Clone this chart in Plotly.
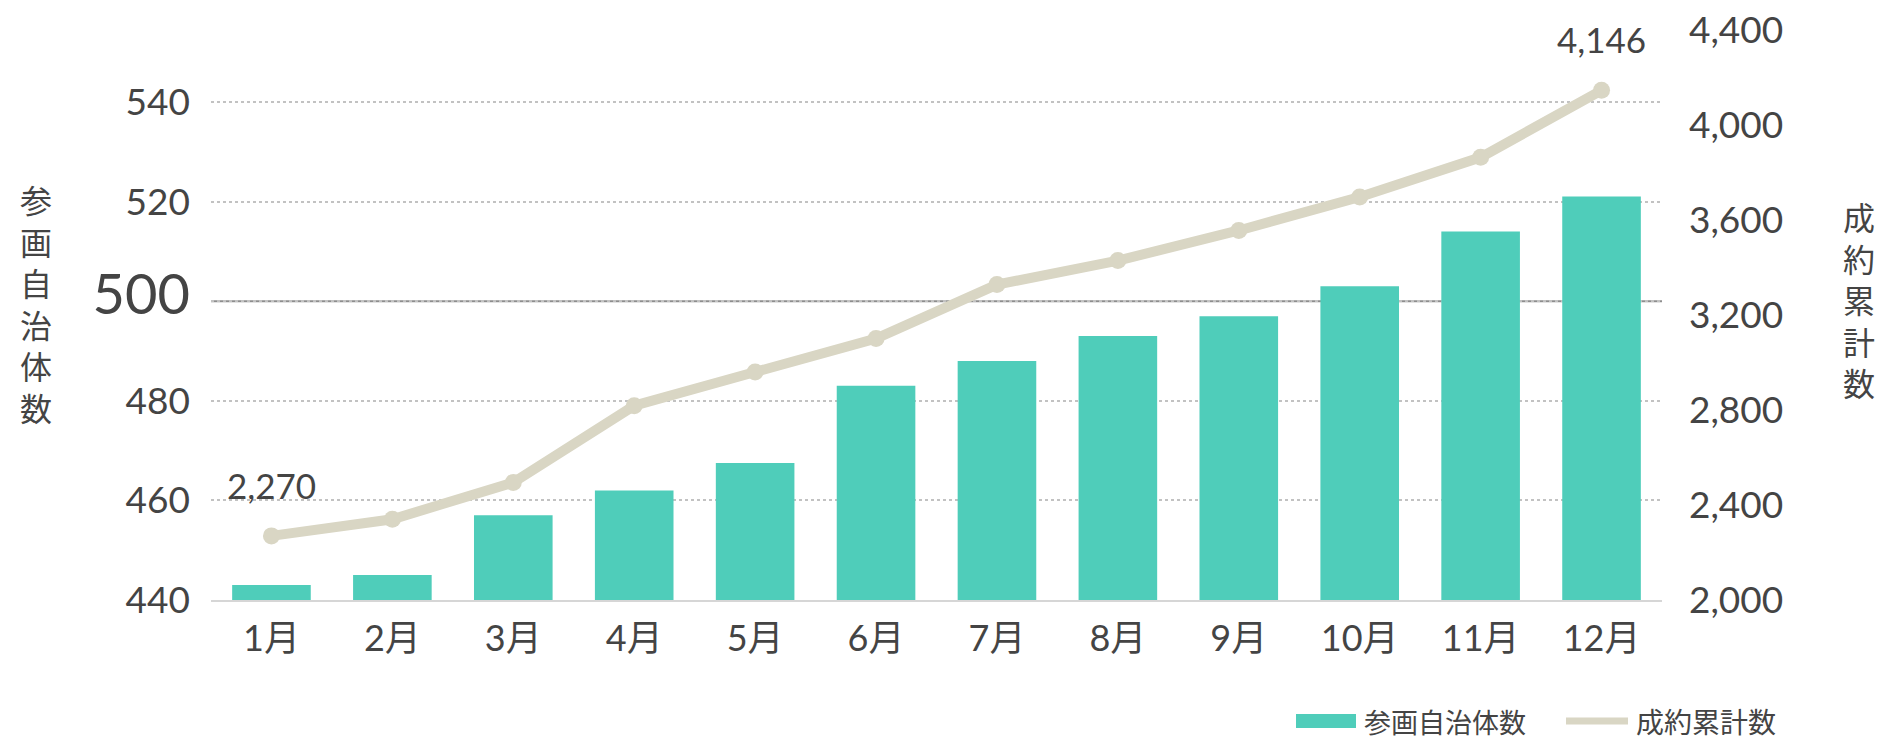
import plotly.graph_objects as go

# ---- data ----
months = ["1月", "2月", "3月", "4月", "5月", "6月", "7月", "8月", "9月", "10月", "11月", "12月"]
municipalities = [443, 445, 457, 462, 467.5, 483, 488, 493, 497, 503, 514, 521]
contracts = [2270, 2340, 2495, 2818, 2960, 3101, 3328, 3429, 3556, 3697, 3864, 4146]
left_ticks = [440, 460, 480, 500, 520, 540]
right_ticks = [2000, 2400, 2800, 3200, 3600, 4000, 4400]
labeled_points = [0, 11]
left_title = "参画自治体数"
right_title = "成約累計数"
bar_name = "参画自治体数"
line_name = "成約累計数"

TEAL = "#4FCDBA"
BEIGE = "#D9D6C4"
TEXT = "#444444"
FONT = "Lato, 'Noto Sans CJK JP', sans-serif"
CJK = "'Noto Sans CJK JP', sans-serif"

# plot area in pixels
L, R, T, B = 211, 1662, 26, 600
W, H = R - L, B - T


def px(xf):
    return (xf - L) / W


def py(yf):
    return (B - yf) / H


fig = go.Figure()
fig.add_trace(go.Bar(x=months, y=municipalities, name=bar_name, marker=dict(color=TEAL, line=dict(width=0)),
                     yaxis="y", showlegend=False))
fig.add_trace(go.Scatter(x=months, y=contracts, name=line_name, mode="lines+markers", yaxis="y2",
                         line=dict(color=BEIGE, width=10), marker=dict(color=BEIGE, size=17),
                         showlegend=False))

left_text = ["<span style='font-size:56px'>500</span>" if v == 500 else str(v) for v in left_ticks]

annotations = []
for i in labeled_points:
    annotations.append(dict(x=months[i], y=contracts[i], xref="x", yref="y2", text=f"{contracts[i]:,}",
                            showarrow=False, yanchor="bottom", yshift=28,
                            font=dict(family=FONT, size=35, color=TEXT)))

# stacked vertical axis titles (one text each, one character per line)
annotations.append(dict(x=px(36), y=py(303), xref="paper", yref="paper", text="<br>".join(left_title),
                        showarrow=False, xanchor="center", yanchor="middle", align="center",
                        font=dict(family=CJK, size=32, color=TEXT)))
annotations.append(dict(x=px(1859), y=py(299), xref="paper", yref="paper", text="<br>".join(right_title),
                        showarrow=False, xanchor="center", yanchor="middle", align="center",
                        font=dict(family=CJK, size=32, color=TEXT)))

# custom legend
LEG_Y = 721
annotations.append(dict(x=px(1362), y=py(LEG_Y), xref="paper", yref="paper", text=bar_name, showarrow=False,
                        xanchor="left", yanchor="middle", font=dict(family=CJK, size=27, color=TEXT)))
annotations.append(dict(x=px(1634), y=py(LEG_Y), xref="paper", yref="paper", text=line_name, showarrow=False,
                        xanchor="left", yanchor="middle", font=dict(family=CJK, size=28, color=TEXT)))

shapes = [
    dict(type="line", xref="paper", yref="y", x0=0, x1=1, y0=500, y1=500,
         line=dict(color="#8E8E8E", width=2), layer="below"),
    dict(type="rect", xref="paper", yref="paper", x0=px(1296), x1=px(1356), y0=py(LEG_Y + 7), y1=py(LEG_Y - 7),
         fillcolor=TEAL, line=dict(width=0)),
    dict(type="line", xref="paper", yref="paper", x0=px(1566), x1=px(1628), y0=py(LEG_Y), y1=py(LEG_Y),
         line=dict(color=BEIGE, width=7)),
]

left_top = 440 + (B - T) / 4.98

fig.update_layout(
    width=1882, height=740,
    margin=dict(l=L, r=1882 - R, t=T, b=740 - B, autoexpand=False),
    paper_bgcolor="white", plot_bgcolor="white",
    bargap=0.35,
    font=dict(family=FONT, color=TEXT),
    xaxis=dict(range=[-0.5, 11.5], showgrid=False, showline=True, linecolor="#D6D6D6", linewidth=2,
               tickfont=dict(family=FONT, size=36, color=TEXT), ticks="", ticklabelstandoff=6),
    yaxis=dict(range=[440, left_top], tickvals=left_ticks, ticktext=left_text,
               showgrid=True, gridcolor="#C2C2C2", griddash="dot", gridwidth=1.5,
               zeroline=False, showline=False, ticks="", ticklabelstandoff=20,
               tickfont=dict(family=FONT, size=37, color=TEXT)),
    yaxis2=dict(range=[2000, 2000 + 400 * (B - T) / 95], tickvals=right_ticks, tickformat=",",
                overlaying="y", side="right",
                showgrid=False, zeroline=False, showline=False, ticks="", ticklabelstandoff=26,
                tickfont=dict(family=FONT, size=37, color=TEXT)),
    annotations=annotations,
    shapes=shapes,
    showlegend=False,
)

fig.write_html("out.html")
